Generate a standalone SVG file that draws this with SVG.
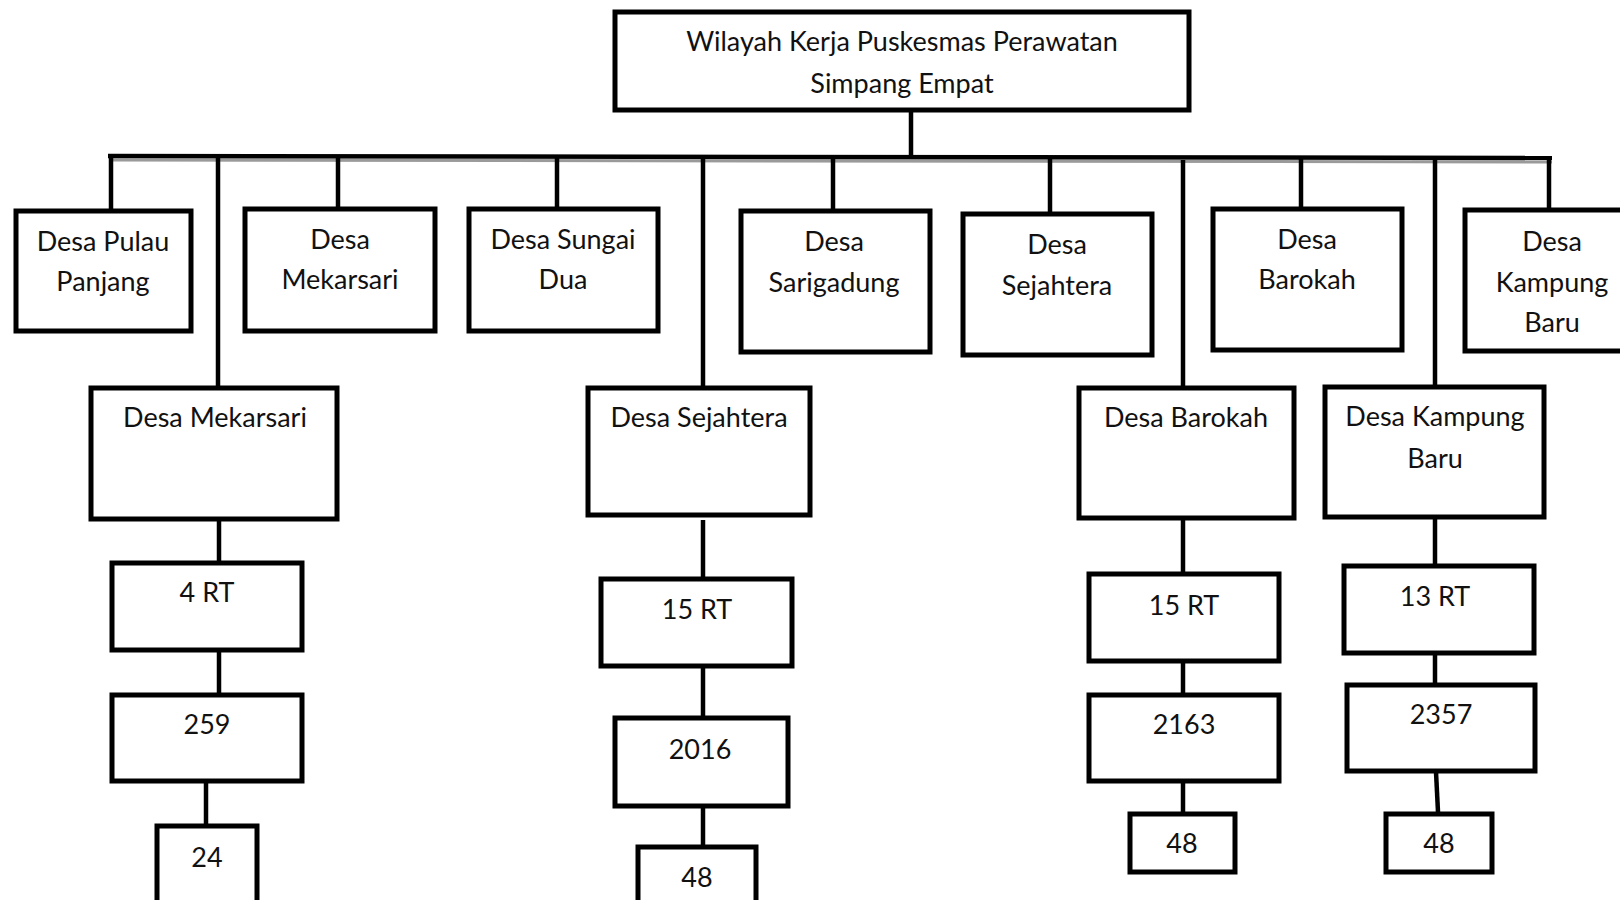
<svg xmlns="http://www.w3.org/2000/svg" width="1620" height="900" viewBox="0 0 1620 900">
<style>
.b{fill:none;stroke:#000;stroke-width:5}
.c{fill:none;stroke:#000;stroke-width:4.5}
text{font-family:Lato,"Liberation Sans",sans-serif;font-size:27px;fill:#111;text-anchor:middle}
</style>
<rect width="1620" height="900" fill="#fff"/>
<g id="connectors">
<line x1="110" y1="160" x2="1552" y2="162" stroke="#9a9a9a" stroke-width="3"/>
<line class="c" x1="911" y1="112" x2="911" y2="158"/>
<line class="c" x1="108" y1="156" x2="1552" y2="158"/>
<line class="c" x1="111" y1="156" x2="111" y2="209"/>
<line class="c" x1="218" y1="158" x2="218" y2="386"/>
<line class="c" x1="338" y1="156" x2="338" y2="207"/>
<line class="c" x1="557" y1="156" x2="557" y2="207"/>
<line class="c" x1="703" y1="158" x2="703" y2="386"/>
<line class="c" x1="833" y1="157" x2="833" y2="209"/>
<line class="c" x1="1050" y1="157" x2="1050" y2="212"/>
<line class="c" x1="1183" y1="160" x2="1183" y2="386"/>
<line class="c" x1="1301" y1="157" x2="1301" y2="207"/>
<line class="c" x1="1435" y1="157" x2="1435" y2="385"/>
<line class="c" x1="1549" y1="158" x2="1549" y2="208"/>
<line class="c" x1="219" y1="521" x2="219" y2="561"/>
<line class="c" x1="219" y1="652" x2="219" y2="693"/>
<line class="c" x1="206" y1="781" x2="206" y2="825"/>
<line class="c" x1="703" y1="520" x2="703" y2="577"/>
<line class="c" x1="703" y1="668" x2="703" y2="716"/>
<line class="c" x1="703" y1="807" x2="703" y2="845"/>
<line class="c" x1="1183" y1="520" x2="1183" y2="573"/>
<line class="c" x1="1183" y1="663" x2="1183" y2="693"/>
<line class="c" x1="1183" y1="780" x2="1183" y2="812"/>
<line class="c" x1="1435" y1="519" x2="1435" y2="565"/>
<line class="c" x1="1435" y1="654" x2="1435" y2="683"/>
<line class="c" x1="1436" y1="772" x2="1438" y2="812"/>
</g>
<g id="title"><rect class="b" x="615" y="12" width="574" height="98"/><text x="902" y="51">Wilayah Kerja Puskesmas Perawatan</text><text x="902" y="93">Simpang Empat</text></g>
<g id="pulau-panjang"><rect class="b" x="16" y="211" width="175" height="120"/><text x="103" y="251">Desa Pulau</text><text x="103" y="291">Panjang</text></g>
<g id="mekarsari-top"><rect class="b" x="245" y="209" width="190" height="122"/><text x="340" y="249">Desa</text><text x="340" y="289">Mekarsari</text></g>
<g id="sungai-dua"><rect class="b" x="469" y="209" width="189" height="122"/><text x="563" y="249">Desa Sungai</text><text x="563" y="289">Dua</text></g>
<g id="sarigadung"><rect class="b" x="741" y="211" width="189" height="141"/><text x="834" y="251">Desa</text><text x="834" y="292">Sarigadung</text></g>
<g id="sejahtera-top"><rect class="b" x="963" y="214" width="189" height="141"/><text x="1057" y="254">Desa</text><text x="1057" y="295">Sejahtera</text></g>
<g id="barokah-top"><rect class="b" x="1213" y="209" width="189" height="141"/><text x="1307" y="249">Desa</text><text x="1307" y="289">Barokah</text></g>
<g id="kampung-baru-top"><rect class="b" x="1465" y="210" width="160" height="141"/><text x="1552" y="251">Desa</text><text x="1552" y="292">Kampung</text><text x="1552" y="332">Baru</text></g>
<g id="mekarsari-low"><rect class="b" x="91" y="388" width="246" height="131"/><text x="215" y="427">Desa Mekarsari</text></g>
<g id="sejahtera-low"><rect class="b" x="588" y="388" width="222" height="127"/><text x="699" y="427">Desa Sejahtera</text></g>
<g id="barokah-low"><rect class="b" x="1079" y="388" width="215" height="130"/><text x="1186" y="427">Desa Barokah</text></g>
<g id="kampung-baru-low"><rect class="b" x="1325" y="387" width="219" height="130"/><text x="1435" y="426">Desa Kampung</text><text x="1435" y="468">Baru</text></g>
<g id="m-4rt"><rect class="b" x="112" y="563" width="190" height="87"/><text x="207" y="602">4 RT</text></g>
<g id="m-259"><rect class="b" x="112" y="695" width="190" height="86"/><text x="207" y="734">259</text></g>
<g id="m-24"><rect class="b" x="157" y="826" width="100" height="90"/><text x="207" y="867">24</text></g>
<g id="s-15rt"><rect class="b" x="601" y="579" width="191" height="87"/><text x="697" y="619">15 RT</text></g>
<g id="s-2016"><rect class="b" x="615" y="718" width="173" height="88"/><text x="700" y="759">2016</text></g>
<g id="s-48"><rect class="b" x="638" y="847" width="118" height="70"/><text x="697" y="887">48</text></g>
<g id="b-15rt"><rect class="b" x="1089" y="574" width="190" height="87"/><text x="1184" y="615">15 RT</text></g>
<g id="b-2163"><rect class="b" x="1089" y="695" width="190" height="86"/><text x="1184" y="734">2163</text></g>
<g id="b-48"><rect class="b" x="1130" y="814" width="105" height="58"/><text x="1182" y="853">48</text></g>
<g id="k-13rt"><rect class="b" x="1344" y="566" width="190" height="87"/><text x="1435" y="606">13 RT</text></g>
<g id="k-2357"><rect class="b" x="1347" y="685" width="188" height="86"/><text x="1441" y="724">2357</text></g>
<g id="k-48"><rect class="b" x="1386" y="814" width="106" height="58"/><text x="1439" y="853">48</text></g>
</svg>
